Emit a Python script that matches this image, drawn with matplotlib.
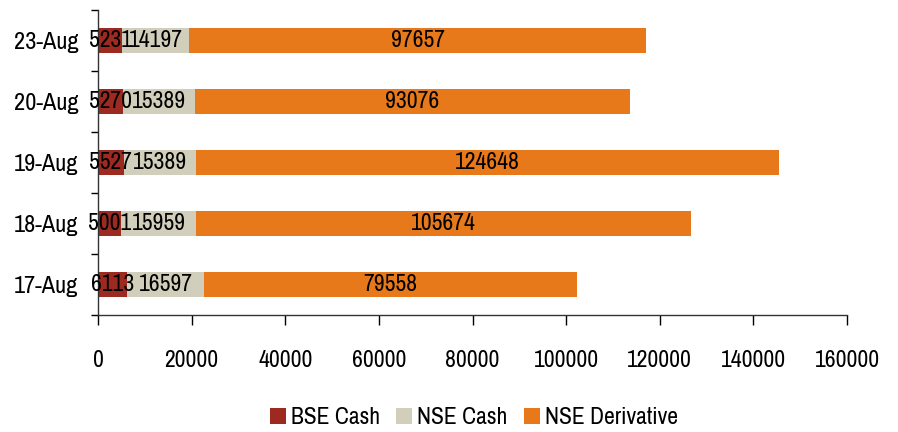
import matplotlib
matplotlib.use("Agg")
import matplotlib.pyplot as plt
from matplotlib.patches import Patch
from matplotlib.ticker import FixedLocator
from matplotlib import font_manager as fm

dates = ["17-Aug", "18-Aug", "19-Aug", "20-Aug", "23-Aug"]
bse_cash = [6113, 5001, 5527, 5270, 5231]
nse_cash = [16597, 15959, 15389, 15389, 14197]
nse_deriv = [79558, 105674, 124648, 93076, 97657]
series_names = ["BSE Cash", "NSE Cash", "NSE Derivative"]
colors = ["#9C2A20", "#D1CFBC", "#E8791A"]
xticks = [0, 20000, 40000, 60000, 80000, 100000, 120000, 140000, 160000]

# prefer a narrow/condensed family if one is installed
narrow = None
for f in fm.fontManager.ttflist:
    if ('Narrow' in f.name or 'Condensed' in f.name) and f.weight in (400, 'normal', 'regular'):
        narrow = f.name
        break
fam = narrow if narrow else 'Roboto'
plt.rcParams['font.family'] = [fam, 'DejaVu Sans']
FS = 17 if narrow else 15

fig = plt.figure(figsize=(8.98, 4.32), dpi=100)
ax = fig.add_axes([98/898, 1-315/432, (847-98)/898, 305/432])

y = list(range(len(dates)))
left = [0]*len(dates)
for vals, col in zip([bse_cash, nse_cash, nse_deriv], colors):
    ax.barh(y, vals, left=left, height=0.41, color=col)
    for yi, l, v in zip(y, left, vals):
        ax.text(l + v/2, yi, str(v), ha='center', va='center', fontsize=FS, color='black')
    left = [a + b for a, b in zip(left, vals)]

ax.set_xlim(0, 160000)
ax.set_ylim(-0.5, len(dates)-0.5)
ax.set_xticks(xticks)
ax.set_xticklabels([str(t) for t in xticks], fontsize=FS)
ax.set_yticks(y)
ax.set_yticklabels(dates, fontsize=FS + 0.5)
ax.yaxis.set_minor_locator(FixedLocator([i - 0.5 for i in range(len(dates)+1)]))
ax.tick_params(axis='y', which='major', length=0, pad=14)
ax.tick_params(axis='y', which='minor', length=5, direction='out', width=1)
ax.tick_params(axis='x', which='major', length=7, direction='out', width=1, pad=18)
for s in ['top', 'right']:
    ax.spines[s].set_visible(False)
for s in ['left', 'bottom']:
    ax.spines[s].set_linewidth(1)
    ax.spines[s].set_color('#333333')

handles = [Patch(facecolor=c, label=n) for c, n in zip(colors, series_names)]
fig.legend(handles=handles, loc='center', bbox_to_anchor=(474/898, 1-418/432), ncol=3,
           frameon=False, fontsize=FS, handlelength=0.68, handleheight=0.68,
           handletextpad=0.22, columnspacing=0.68)

fig.savefig("out.png", dpi=100)
